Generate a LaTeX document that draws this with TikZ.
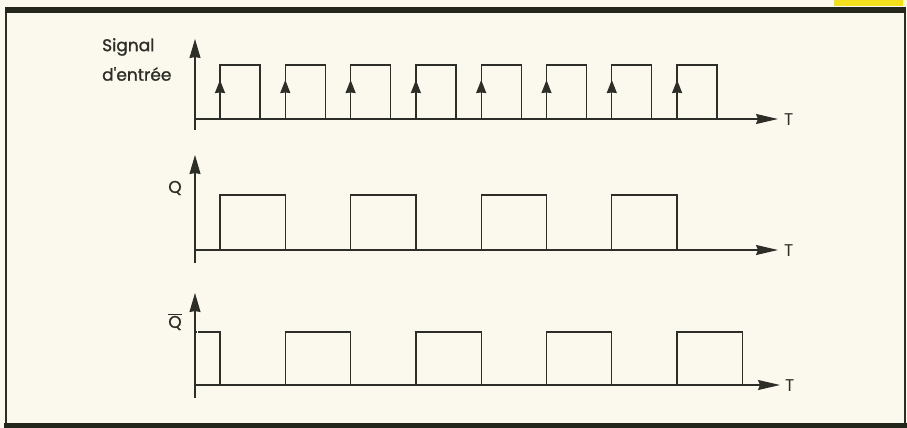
\documentclass[tikz,border=0pt]{standalone}
\usepackage{fontspec}
\setmainfont{Poppins}
\newfontface\lblfont{Poppins}[FakeBold=1.2]
\usetikzlibrary{arrows.meta}
\definecolor{bgc}{HTML}{FBF9EE}
\definecolor{ink}{HTML}{2E2E28}
\definecolor{barc}{HTML}{22261B}
\definecolor{yel}{HTML}{F2E01C}
\begin{document}
\begin{tikzpicture}[x=1pt,y=-1pt,
  wave/.style={draw=ink,line width=1.3pt,line join=miter},
  axisv/.style={draw=ink,line width=1.3pt,-{Stealth[length=19pt,width=11pt,inset=1pt]}},
  axish/.style={draw=ink,line width=1.3pt,-{Stealth[length=22pt,width=10pt,inset=2pt]}},
  edgearrow/.style={draw=ink,line width=1.3pt,-{Stealth[length=13pt,width=10pt,inset=0.5pt]}},
  lbl/.style={text=ink,font=\lblfont\fontsize{17}{19}\selectfont,inner sep=0pt},
  tlbl/.style={text=ink,font=\fontsize{17}{19}\selectfont,inner sep=0pt,anchor=west}]
\useasboundingbox (0,0) rectangle (907,428);
\fill[bgc] (0,0) rectangle (907,428);
% frame
\fill[yel] (834,0) rectangle (903,6.5);
\fill[barc] (5,7) rectangle (906,13);
\fill[barc] (4,423) rectangle (907,428);
\draw[ink,line width=1.4pt] (6,13) -- (6,423);
\draw[ink,line width=1.4pt] (905,13) -- (905,423);

% ---------- Signal d'entree ----------
\coordinate (s0) at (195,119);
\draw[axisv] (195,130) -- (195,39);
\draw[axish] (s0) -- (778,119);
\node[tlbl] (tS) at (784,120) {T};
\node[lbl,anchor=west] (sig1) at (102,47) {Signal};
\node[lbl,anchor=west] (sig2) at (102,74) {d'entrée};
\foreach \k in {0,...,7}{
  \pgfmathsetmacro{\r}{220+65.3*\k}
  \pgfmathsetmacro{\f}{\r+40}
  \draw[wave] (\r,119) -- (\r,65) -- (\f,65) -- (\f,119);
  \draw[edgearrow] (\r,105) -- (\r,80);
}

% ---------- Q ----------
\coordinate (q0) at (195,250);
\draw[axisv] (195,263) -- (195,155);
\draw[axish] (q0) -- (778,250);
\node[tlbl] (tQ) at (784,251) {T};
\node[lbl] (lQ) at (175,188) {Q};
\foreach \k in {0,...,3}{
  \pgfmathsetmacro{\r}{220+130.6*\k}
  \pgfmathsetmacro{\f}{\r+65.3}
  \draw[wave] (\r,250) -- (\r,195) -- (\f,195) -- (\f,250);
}

% ---------- Q bar ----------
\coordinate (b0) at (195,385);
\draw[axisv] (195,398) -- (195,293);
\draw[axish] (b0) -- (780,385);
\node[tlbl] (tB) at (785,386) {T};
\node[lbl] (lB) at (175,322) {$\overline{\mbox{\lblfont Q}}$};
\draw[ink,line width=1.3pt,dash pattern=on 1.5pt off 1.5pt] (195,332) -- (200,332);
\draw[wave] (200,332) -- (220,332) -- (220,385);
\foreach \k in {0,...,3}{
  \pgfmathsetmacro{\r}{285.3+130.6*\k}
  \pgfmathsetmacro{\f}{\r+65.3}
  \draw[wave] (\r,385) -- (\r,332) -- (\f,332) -- (\f,385);
}
\end{tikzpicture}
\end{document}
